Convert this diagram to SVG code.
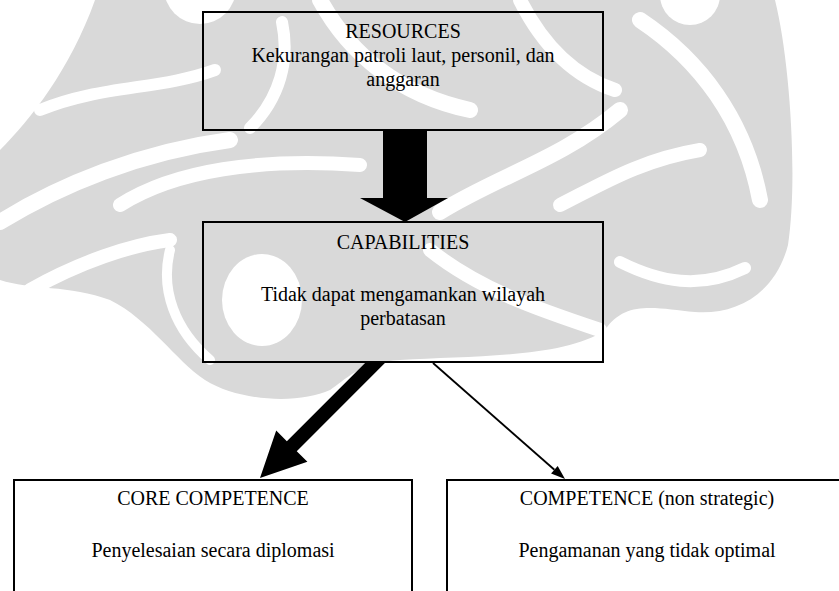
<svg xmlns="http://www.w3.org/2000/svg" width="839" height="591" viewBox="0 0 839 591">
  <style>
    .box { fill: none; stroke: #000; stroke-width: 2; }
    .t { font-family: "Liberation Serif", "Times New Roman", serif; font-size: 20px; fill: #000; text-anchor: middle; }
    .wm { fill: #d9d9d9; }
    .wl { fill: none; stroke: #fff; stroke-linecap: round; }
  </style>
  <rect width="839" height="591" fill="#fff"/>

  <!-- faint background emblem -->
  <g id="emblem">
    <path class="wm" d="M95,0 L775,0 C790,60 798,180 788,245 C775,295 735,315 695,312 C655,308 625,300 605,330 C565,358 470,356 400,360 C360,362 345,380 330,390 C300,404 240,402 205,380 C175,360 150,320 110,300 C70,285 30,290 0,280 L0,150 C30,120 70,70 95,0 Z"/>
    <circle cx="200" cy="-12" r="36" fill="#fff"/>
    <circle cx="690" cy="-5" r="30" fill="#fff"/>
    <ellipse cx="262" cy="300" rx="40" ry="46" fill="#fff"/>
    <path class="wl" stroke-width="16" d="M0,222 C60,185 140,152 230,140"/>
    <path class="wl" stroke-width="12" d="M40,110 C100,85 160,90 215,70"/>
    <path class="wl" stroke-width="14" d="M30,290 C80,262 130,245 170,240"/>
    <path class="wl" stroke-width="16" d="M320,0 C350,55 400,95 470,110"/>
    <path class="wl" stroke-width="12" d="M250,128 C280,98 290,60 282,22"/>
    <path class="wl" stroke-width="14" d="M520,0 C540,40 570,75 615,90"/>
    <path class="wl" stroke-width="14" d="M120,205 C175,170 260,158 360,165"/>
    <path class="wl" stroke-width="14" d="M560,205 C600,185 640,160 700,150"/>
    <path class="wl" stroke-width="16" d="M440,212 C500,175 560,160 620,110"/>
    <path class="wl" stroke-width="16" d="M640,20 C700,60 745,120 760,200"/>
    <path class="wl" stroke-width="14" d="M430,250 C480,290 540,310 600,330"/>
    <path class="wl" stroke-width="12" d="M620,262 C660,282 700,290 745,268"/>
    <path class="wl" stroke-width="10" d="M170,250 C160,290 175,330 210,360"/>
  </g>

  <!-- connectors -->
  <g id="connectors">
    <polygon points="383,130 427,130 427,198 448,198 405,222 360,198 383,198" fill="#000"/>
    <polygon points="365.1,363 384.9,363 296.75,451.15 307.4,461.8 260,478 276.2,430.6 286.85,441.25" fill="#000"/>
    <line x1="433" y1="363" x2="554.4" y2="469.8" stroke="#000" stroke-width="1.8"/>
    <polygon points="565,479 551.1,473.6 557.7,466.0" fill="#000"/>
  </g>

  <g id="resources">
    <rect class="box" x="203" y="12" width="400" height="118"/>
    <text class="t" x="403" y="38">RESOURCES</text>
    <text class="t" x="403" y="62">Kekurangan patroli laut, personil, dan</text>
    <text class="t" x="403" y="86">anggaran</text>
  </g>

  <g id="capabilities">
    <rect class="box" x="203" y="222" width="400" height="140"/>
    <text class="t" x="403" y="249">CAPABILITIES</text>
    <text class="t" x="403" y="301">Tidak dapat mengamankan wilayah</text>
    <text class="t" x="403" y="325">perbatasan</text>
  </g>

  <g id="core-competence">
    <rect class="box" x="14" y="480" width="398" height="130"/>
    <text class="t" x="213" y="505">CORE COMPETENCE</text>
    <text class="t" x="213" y="557">Penyelesaian secara diplomasi</text>
  </g>

  <g id="competence">
    <rect class="box" x="447" y="480" width="410" height="130"/>
    <text class="t" x="647" y="505">COMPETENCE (non strategic)</text>
    <text class="t" x="647" y="557">Pengamanan yang tidak optimal</text>
  </g>
</svg>
